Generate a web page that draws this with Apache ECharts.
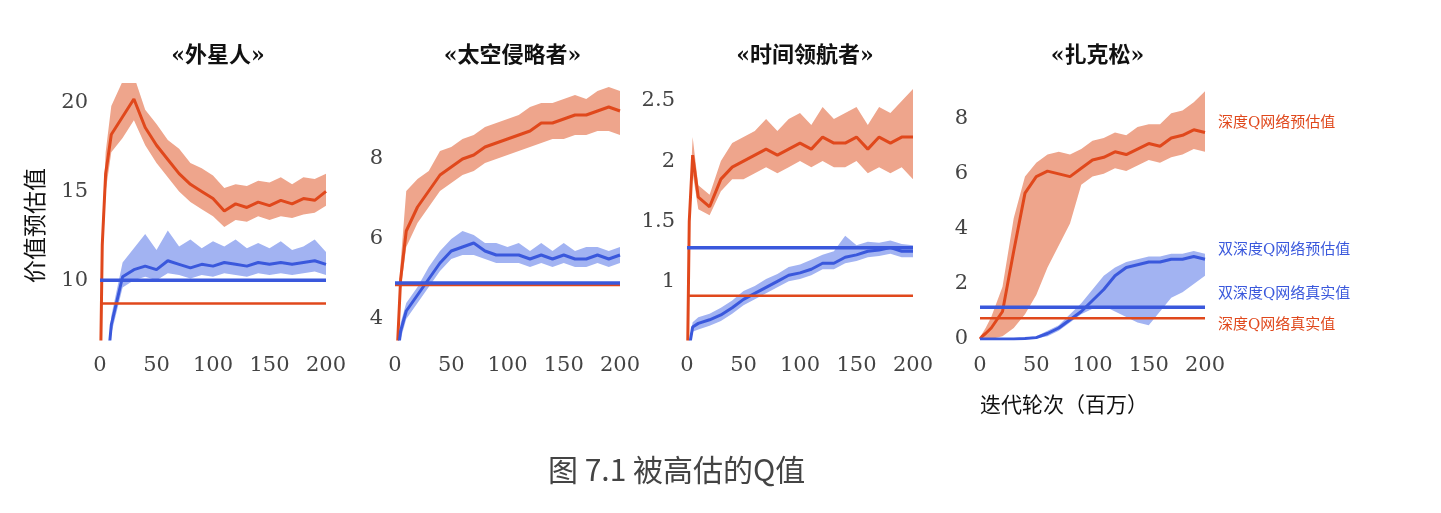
<!DOCTYPE html>
<html>
<head>
<meta charset="utf-8">
<script src="https://cdn.jsdelivr.net/npm/echarts@6/dist/echarts.min.js"></script>
<style>html,body{margin:0;padding:0;background:#fff}#main{width:1441px;height:513px}</style>
</head>
<body>
<div id="main"></div>
<script>
// 迭代轮次（百万）
var xs = [0, 2, 5, 10, 20, 30, 40, 50, 60, 70, 80, 90, 100, 110, 120, 130, 140, 150, 160, 170, 180, 190, 200];
var titles = ['«外星人»', '«太空侵略者»', '«时间领航者»', '«扎克松»'];
var xTicks = [0, 50, 100, 150, 200];

// 外星人
var p1DqnMean = [3, 12, 16, 18.2, 19.2, 20.2, 18.6, 17.6, 16.8, 16, 15.4, 15, 14.6, 13.9, 14.3, 14.1, 14.4, 14.2, 14.5, 14.3, 14.6, 14.5, 15.0];
var p1DqnLow = [3, 11, 15, 17.2, 18, 19, 17.6, 16.6, 15.8, 15, 14.4, 14, 13.6, 13, 13.4, 13.3, 13.6, 13.4, 13.6, 13.5, 13.7, 13.8, 14.2];
var p1DqnUp = [3, 13, 17.2, 19.8, 21.2, 21.5, 19.6, 18.8, 17.9, 17.4, 16.6, 16.3, 15.9, 15.2, 15.4, 15.3, 15.6, 15.5, 15.8, 15.4, 15.8, 15.7, 16];
var p1DdqnMean = [2, 3, 4, 7.5, 10.2, 10.6, 10.8, 10.6, 11.1, 10.9, 10.7, 10.9, 10.8, 11, 10.9, 10.8, 11, 10.9, 11, 10.9, 11, 11.1, 10.9];
var p1DdqnLow = [2, 3, 4, 7, 9.6, 10, 10.2, 10, 10.4, 10.3, 10.1, 10.3, 10.2, 10.4, 10.3, 10.2, 10.4, 10.3, 10.4, 10.3, 10.4, 10.5, 10.3];
var p1DdqnUp = [2, 3, 4.2, 8, 11, 11.8, 12.6, 11.7, 12.8, 11.9, 12.3, 11.8, 12.2, 11.9, 12.3, 11.8, 12.1, 11.8, 12.2, 11.7, 11.9, 12.3, 11.6];
var p1True = [8.7, 10.0];
var p1Ticks = [10, 15, 20];

// 太空侵略者
var p2DqnMean = [2, 3.2, 5, 6.2, 6.8, 7.2, 7.6, 7.8, 8.0, 8.1, 8.3, 8.4, 8.5, 8.6, 8.7, 8.9, 8.9, 9.0, 9.1, 9.1, 9.2, 9.3, 9.2];
var p2DqnLow = [2, 3, 4.7, 5.8, 6.4, 6.8, 7.2, 7.4, 7.6, 7.7, 7.9, 8.0, 8.1, 8.2, 8.3, 8.4, 8.5, 8.5, 8.6, 8.6, 8.7, 8.7, 8.6];
var p2DqnUp = [2, 3.4, 5.4, 7.2, 7.5, 7.7, 8.2, 8.3, 8.5, 8.6, 8.8, 8.9, 9.0, 9.1, 9.3, 9.4, 9.4, 9.5, 9.6, 9.5, 9.7, 9.8, 9.7];
var p2DdqnMean = [2, 3, 3.7, 4.2, 4.6, 5.0, 5.4, 5.7, 5.8, 5.9, 5.7, 5.6, 5.6, 5.6, 5.5, 5.6, 5.5, 5.6, 5.5, 5.5, 5.6, 5.5, 5.6];
var p2DdqnLow = [2, 3, 3.5, 4.0, 4.4, 4.8, 5.2, 5.5, 5.6, 5.6, 5.5, 5.4, 5.4, 5.4, 5.3, 5.4, 5.3, 5.4, 5.3, 5.3, 5.4, 5.3, 5.4];
var p2DdqnUp = [2, 3.1, 3.9, 4.4, 4.8, 5.3, 5.7, 6.0, 6.2, 6.1, 5.9, 5.9, 5.8, 5.9, 5.7, 5.9, 5.7, 5.9, 5.7, 5.8, 5.8, 5.7, 5.8];
var p2True = [4.85, 4.9];
var p2Ticks = [4, 6, 8];

// 时间领航者
var p3DqnMean = [0, 1.5, 2.05, 1.7, 1.62, 1.85, 1.95, 2.0, 2.05, 2.1, 2.05, 2.1, 2.15, 2.1, 2.2, 2.15, 2.15, 2.2, 2.1, 2.2, 2.15, 2.2, 2.2];
var p3DqnLow = [0, 1.4, 1.9, 1.6, 1.55, 1.75, 1.85, 1.85, 1.9, 1.95, 1.9, 1.95, 2.0, 1.95, 2.0, 1.95, 1.95, 2.0, 1.9, 1.95, 1.9, 1.95, 1.85];
var p3DqnUp = [0, 1.6, 2.2, 1.8, 1.72, 2.0, 2.15, 2.2, 2.25, 2.35, 2.25, 2.35, 2.4, 2.3, 2.45, 2.35, 2.4, 2.45, 2.3, 2.45, 2.4, 2.5, 2.6];
var p3DdqnMean = [0.3, 0.45, 0.62, 0.65, 0.68, 0.72, 0.78, 0.85, 0.9, 0.95, 1.0, 1.05, 1.07, 1.1, 1.15, 1.15, 1.2, 1.22, 1.25, 1.26, 1.28, 1.25, 1.25];
var p3DdqnLow = [0.3, 0.45, 0.58, 0.6, 0.63, 0.67, 0.73, 0.8, 0.85, 0.9, 0.95, 1.0, 1.02, 1.05, 1.1, 1.1, 1.15, 1.17, 1.2, 1.21, 1.23, 1.2, 1.2];
var p3DdqnUp = [0.3, 0.5, 0.66, 0.7, 0.73, 0.78, 0.84, 0.92, 0.96, 1.02, 1.06, 1.12, 1.14, 1.18, 1.22, 1.25, 1.38, 1.3, 1.33, 1.32, 1.34, 1.31, 1.3];
var p3True = [0.88, 1.28];
var p3Ticks = [1.0, 1.5, 2.0, 2.5];

// 扎克松
var p4DqnMean = [0, 0.1, 0.2, 0.4, 1.0, 3.2, 5.3, 5.9, 6.1, 6.0, 5.9, 6.2, 6.5, 6.6, 6.8, 6.7, 6.9, 7.1, 7.0, 7.3, 7.4, 7.6, 7.5];
var p4DqnLow = [0, 0, 0, 0, 0.1, 0.4, 0.9, 1.6, 2.6, 3.4, 4.2, 5.6, 5.9, 6.0, 6.2, 6.1, 6.3, 6.5, 6.4, 6.6, 6.7, 6.9, 6.8];
var p4DqnUp = [0, 0.2, 0.4, 0.8, 1.9, 4.4, 5.9, 6.4, 6.7, 6.8, 6.7, 6.9, 7.2, 7.3, 7.5, 7.4, 7.7, 7.8, 7.8, 8.2, 8.3, 8.6, 9.0];
var p4DdqnMean = [0, 0, 0, 0, 0, 0, 0.02, 0.05, 0.2, 0.4, 0.7, 1.0, 1.4, 1.8, 2.3, 2.6, 2.7, 2.8, 2.8, 2.9, 2.9, 3.0, 2.9];
var p4DdqnLow = [0, 0, 0, 0, 0, 0, 0, 0.02, 0.1, 0.3, 0.6, 0.9, 1.1, 1.2, 1.0, 0.8, 0.6, 0.5, 1.0, 1.5, 1.7, 2.0, 2.3];
var p4DdqnUp = [0, 0, 0, 0, 0, 0, 0.05, 0.1, 0.3, 0.5, 0.9, 1.3, 1.8, 2.3, 2.6, 2.8, 2.9, 3.0, 3.0, 3.1, 3.1, 3.2, 3.1];
var p4True = [0.75, 1.15];
var p4Ticks = [0, 2, 4, 6, 8];

var panels = [
  {left: 100, width: 226, min: 6.7, max: 21.1, ticks: p1Ticks, d: [p1DqnMean, p1DqnLow, p1DqnUp, p1DdqnMean, p1DdqnLow, p1DdqnUp], t: p1True},
  {left: 395, width: 225, min: 3.5, max: 9.9, ticks: p2Ticks, d: [p2DqnMean, p2DqnLow, p2DqnUp, p2DdqnMean, p2DdqnLow, p2DdqnUp], t: p2True},
  {left: 687, width: 226, min: 0.52, max: 2.65, ticks: p3Ticks, d: [p3DqnMean, p3DqnLow, p3DqnUp, p3DdqnMean, p3DdqnLow, p3DdqnUp], t: p3True},
  {left: 980, width: 225, min: 0, max: 9.3, ticks: p4Ticks, d: [p4DqnMean, p4DqnLow, p4DqnUp, p4DdqnMean, p4DdqnLow, p4DdqnUp], t: p4True}
];

var RED = '#e0481c', RED_L = '#eea58c', BLUE = '#3a58dc', BLUE_L = '#a2b3f2';
var SERIF = 'DejaVu Serif, Liberation Serif, Noto Sans CJK SC, serif';

function pairs(arr) { return xs.map(function (x, i) { return [x, arr[i]]; }); }

// 置信带：用自定义系列画多边形，坐标经由坐标轴换算
function bandSeries(k, low, up, color) {
  var data = xs.map(function (x, i) { return [x, low[i], up[i]]; });
  return {
    type: 'custom', xAxisIndex: k, yAxisIndex: k, data: data, silent: true,
    clip: true, encode: {x: 0, y: [1, 2]},
    renderItem: function (params, api) {
      if (params.dataIndex !== 0) return;
      var pts = [];
      data.forEach(function (d) { pts.push(api.coord([d[0], d[2]])); });
      for (var i = data.length - 1; i >= 0; i--) pts.push(api.coord([data[i][0], data[i][1]]));
      return {type: 'polygon', shape: {points: pts}, style: {fill: color}};
    }
  };
}

var grids = [], xAxes = [], yAxes = [], series = [], titleList = [];
panels.forEach(function (p, k) {
  grids.push({left: p.left, width: p.width, top: 83, height: 256});
  xAxes.push({
    type: 'value', gridIndex: k, min: 0, max: 200,
    axisLine: {show: false}, axisTick: {show: false}, splitLine: {show: false},
    axisLabel: {customValues: xTicks, color: '#444', fontFamily: SERIF, fontSize: 21, margin: 16}
  });
  yAxes.push({
    type: 'value', gridIndex: k, min: p.min, max: p.max,
    axisLine: {show: false}, axisTick: {show: false}, splitLine: {show: false},
    axisLabel: {customValues: p.ticks, color: '#444', fontFamily: SERIF, fontSize: 21, margin: 12}
  });
  titleList.push({
    text: titles[k], left: p.left + p.width / 2, top: 40, textAlign: 'center',
    textStyle: {fontFamily: SERIF, fontSize: 22, fontWeight: 'bold', color: '#111'}
  });
  var d = p.d;
  series.push(bandSeries(k, d[1], d[2], RED_L));
  series.push(bandSeries(k, d[4], d[5], BLUE_L));
  series.push({type: 'line', xAxisIndex: k, yAxisIndex: k, data: pairs(d[0]), symbol: 'none', lineStyle: {color: RED, width: 3}});
  series.push({type: 'line', xAxisIndex: k, yAxisIndex: k, data: pairs(d[3]), symbol: 'none', lineStyle: {color: BLUE, width: 3}});
  series.push({type: 'line', xAxisIndex: k, yAxisIndex: k, data: [[0, p.t[0]], [200, p.t[0]]], symbol: 'none', lineStyle: {color: RED, width: 2.5}});
  series.push({type: 'line', xAxisIndex: k, yAxisIndex: k, data: [[0, p.t[1]], [200, p.t[1]]], symbol: 'none', lineStyle: {color: BLUE, width: 3.5}});
});

var legendTexts = [
  ['深度Q网络预估值', 125, RED], ['双深度Q网络预估值', 252, BLUE],
  ['双深度Q网络真实值', 296, BLUE], ['深度Q网络真实值', 327, RED]
];
var graphics = legendTexts.map(function (l) {
  return {type: 'text', left: 1218, top: l[1] - 9, style: {text: l[0], fill: l[2], font: '15px ' + SERIF}};
});
graphics.push({type: 'text', left: 26, top: 168, rotation: Math.PI / 2,
  style: {text: '价值预估值', fill: '#111', font: '23px ' + SERIF}});
graphics.push({type: 'text', left: 980, top: 396, style: {text: '迭代轮次（百万）', fill: '#111', font: '21px ' + SERIF}});
graphics.push({type: 'text', left: 548, top: 455, style: {text: '图 7.1 被高估的Q值', fill: '#444', font: '30px Noto Sans CJK SC, sans-serif'}});

var myChart = echarts.init(document.getElementById('main'));
myChart.setOption({
  animation: false,
  title: titleList,
  grid: grids, xAxis: xAxes, yAxis: yAxes, series: series, graphic: graphics
});
window.addEventListener('resize', function () { myChart.resize(); });
</script>
</body>
</html>
